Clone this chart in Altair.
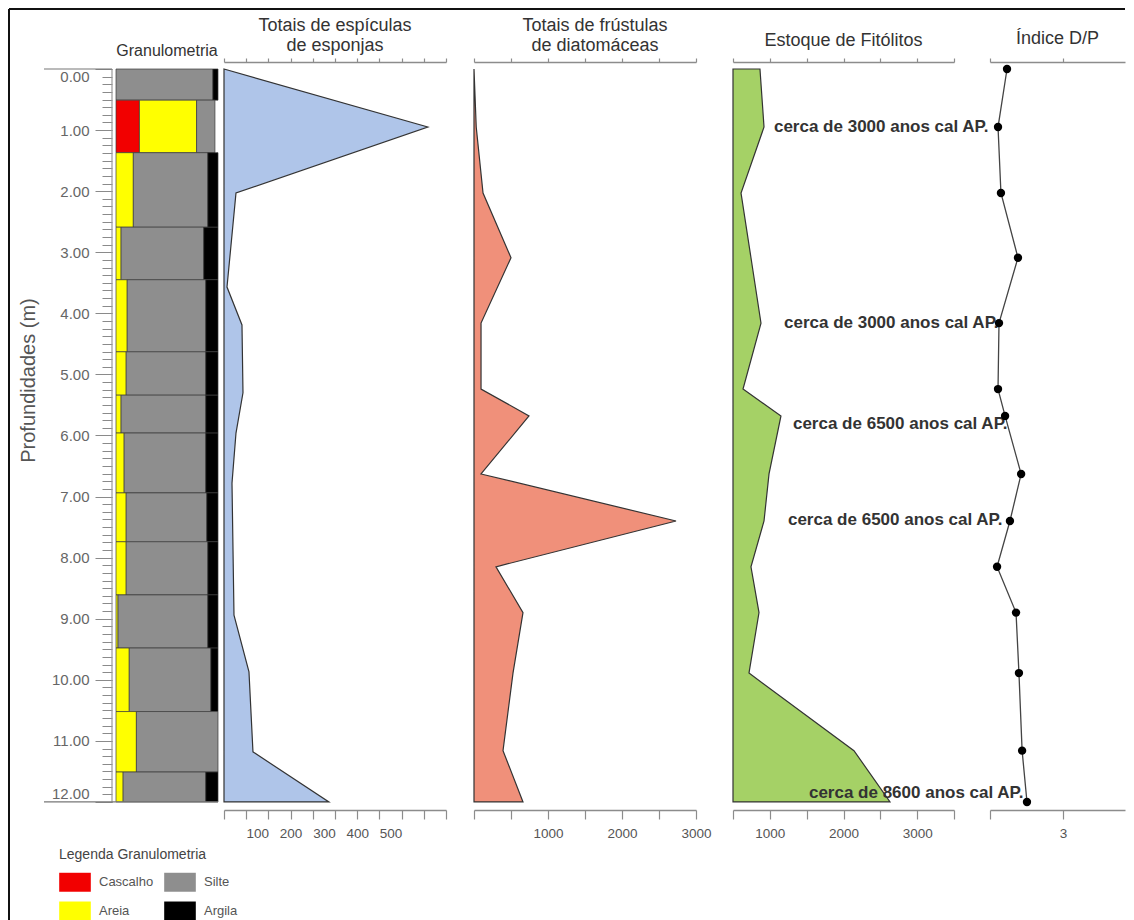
import altair as alt
import pandas as pd

FONT = "Liberation Sans"

# ---------------- data ----------------
# Granulometria: layer limits (m) and % of each class (left to right)
layer_top = [0.00, 0.51, 1.37, 2.59, 3.45, 4.63, 5.34, 5.96, 6.94, 7.74, 8.61, 9.48, 10.52, 11.51]
layer_bottom = [0.51, 1.37, 2.59, 3.45, 4.63, 5.34, 5.96, 6.94, 7.74, 8.61, 9.48, 10.52, 11.51, 12.00]
cascalho = [0, 23, 0, 0, 0, 0, 0, 0, 0, 0, 0, 0, 0, 0]
areia = [0, 56, 17, 5, 11, 10, 5, 8, 10, 10, 2, 13, 20, 7]
silte = [95, 18, 73, 81, 77, 78, 83, 80, 79, 80, 88, 80, 80, 81]
argila = [5, 0, 10, 14, 12, 12, 12, 12, 11, 10, 10, 7, 0, 12]

grain_classes = ["Cascalho", "Areia", "Silte", "Argila"]
grain_colors = ["#f20000", "#ffff00", "#8e8e8e", "#000000"]

# Totais de espículas de esponjas
sponge_depth = [0.0, 0.95, 2.03, 3.57, 4.19, 5.30, 5.96, 6.78, 8.94, 9.87, 11.18, 12.0]
sponge_total = [0, 612, 36, 9, 54, 57, 36, 24, 30, 75, 87, 315]

# sample depths shared by the other profiles
sample_depth = [0.0, 0.95, 2.03, 3.09, 4.16, 5.24, 5.68, 6.63, 7.40, 8.15, 8.90, 9.89, 11.16, 12.0]
diatom_total = [0, 30, 122, 500, 95, 95, 743, 95, 2730, 297, 662, 527, 392, 662]
phyto_stock = [866, 921, 609, 744, 880, 636, 1151, 989, 921, 744, 853, 717, 2142, 2631]
dp_index = [0.70, 0.33, 0.45, 1.15, 0.37, 0.33, 0.62, 1.28, 0.82, 0.29, 1.07, 1.19, 1.32, 1.52]

# dating annotations (depth, position on the phytolith axis)
anno_depth = [0.95, 4.16, 5.81, 7.38, 11.85]
anno_value = [1056, 1192, 1314, 1246, 1531]
anno_text = [
    "cerca de 3000 anos cal AP.",
    "cerca de 3000 anos cal AP.",
    "cerca de 6500 anos cal AP.",
    "cerca de 6500 anos cal AP.",
    "cerca de 8600 anos cal AP.",
]

# ---------------- layout constants ----------------
H = 779
Y_DOM = [-0.344, 12.41]
AXIS_GREY = "#8c8c8c"
OUTLINE = "#333333"


def yscale():
    return alt.Scale(domain=Y_DOM, reverse=True, nice=False, zero=False)


AXBASE = dict(domainColor=AXIS_GREY, domainWidth=1.6, tickColor=AXIS_GREY,
              tickWidth=1.2, grid=False, title=None)


def ax_top(ticks):
    return alt.Axis(orient="top", offset=-14, values=ticks, labels=False, tickSize=4, **AXBASE)


def ax_bottom_ticks(ticks):
    return alt.Axis(orient="bottom", offset=-17, values=ticks, labels=False, tickSize=9, **AXBASE)


def ax_bottom_labels(vals):
    return alt.Axis(orient="bottom", offset=-17, values=vals, ticks=False, domain=False,
                    labelPadding=16, format="d", labelFontSize=13.5, labelColor="#555555",
                    labelFont=FONT, grid=False, title=None, labelFlush=False, labelOverlap=False)


Y_LINE = alt.Axis(orient="left", domain=True, domainColor=AXIS_GREY, domainWidth=1.6,
                  ticks=False, labels=False, grid=False, title=None)


def title(lines, offset, size=18, dx=0):
    return alt.TitleParams(text=lines, font=FONT, fontSize=size, fontWeight="normal",
                           color="#333333", anchor="middle", frame="group", baseline="bottom",
                           offset=offset, lineHeight=20, dx=dx)


# ---------------- granulometry panel ----------------
rows = []
for i in range(len(layer_top)):
    x0 = 0
    for cls, vals in (("Cascalho", cascalho), ("Areia", areia), ("Silte", silte), ("Argila", argila)):
        v = vals[i]
        if v > 0:
            rows.append(dict(top=layer_top[i], bottom=layer_bottom[i], classe=cls, x0=x0, x1=x0 + v))
        x0 += v
gran_df = pd.DataFrame(rows)

major_axis = alt.Axis(
    orient="left", offset=4, values=list(range(0, 13)), domain=False,
    tickColor="#8a8a8a", tickWidth=1, tickSize=17, format=".2f",
    labelBaseline={"condition": [{"test": "datum.value === 0", "value": "top"},
                                 {"test": "datum.value === 12", "value": "bottom"}],
                   "value": "middle"},
    labelPadding=6, labelFontSize=15, labelColor="#666666", labelFont=FONT,
    labelOverlap=False, labelFlush=False, grid=False,
    title="Profundidades (m)", titleFontSize=20, titleFontWeight="normal",
    titleColor="#555555", titleFont=FONT, titleX=-84, titleY=332,
    titleBaseline="middle", titleAlign="center", titleAngle=270,
)
minor_axis = alt.Axis(
    orient="left", offset=4, values=[k * 0.125 for k in range(0, 97)], domain=False,
    tickColor="#8a8a8a", tickWidth=1, tickSize=10, labels=False, grid=False, title=None,
)

legend = alt.Legend(
    title="Legenda Granulometria", orient="none", legendX=-57, legendY=800,
    columns=2, symbolType="M-1,-0.6H1V0.6H-1Z", symbolSize=1000,
    symbolStrokeWidth=0, symbolOpacity=1,
    labelFont=FONT, labelFontSize=13, labelColor="#555555", labelOffset=8,
    titleFont=FONT, titleFontSize=14, titleFontWeight="normal", titleColor="#444444",
    titlePadding=4, columnPadding=10, rowPadding=3,
)

bars = alt.Chart(gran_df).mark_bar(stroke="#3a3a3a", strokeWidth=0.7).encode(
    x=alt.X("x0:Q", scale=alt.Scale(domain=[0, 100], nice=False), axis=None),
    x2="x1:Q",
    y=alt.Y("top:Q", scale=yscale(), axis=major_axis),
    y2="bottom:Q",
    color=alt.Color("classe:N", scale=alt.Scale(domain=grain_classes, range=grain_colors),
                    legend=legend),
)

depth_range = pd.DataFrame({"d0": [layer_top[0]], "d1": [layer_bottom[-1]]})
depth_line = alt.Chart(depth_range).mark_rule(color="#9a9a9a", strokeWidth=1.2).encode(
    x=alt.value(-4), y=alt.Y("d0:Q", scale=yscale(), axis=minor_axis), y2="d1:Q")
top_line = alt.Chart(depth_range).mark_rule(color="#777777", strokeWidth=1.2).encode(
    x=alt.value(-72), x2=alt.value(-4), y=alt.Y("d0:Q", scale=yscale(), axis=None))
bottom_line = alt.Chart(depth_range).mark_rule(color="#777777", strokeWidth=1.2).encode(
    x=alt.value(-72), x2=alt.value(102), y=alt.Y("d1:Q", scale=yscale(), axis=None))

gran = alt.layer(bars, depth_line, top_line, bottom_line).resolve_axis(y="independent").properties(
    width=102, height=H, title=title("Granulometria", -27, size=16))


# ---------------- profile panels ----------------
def profile_panel(depths, values, dom, fill, ticks, labels, width, ttl, extra=None):
    df = pd.DataFrame({"depth": depths, "v": values})
    xs = alt.Scale(domain=dom, nice=False, zero=False)
    area = alt.Chart(df).mark_area(orient="horizontal", fill=fill, fillOpacity=1,
                                   stroke=OUTLINE, strokeWidth=1.2).encode(
        x=alt.X("v:Q", scale=xs, axis=ax_top(ticks), stack=None),
        y=alt.Y("depth:Q", scale=yscale(), axis=Y_LINE),
    )
    tk = alt.Chart(df).mark_point(opacity=0).encode(
        x=alt.X("v:Q", scale=xs, axis=ax_bottom_ticks(ticks)),
        y=alt.Y("depth:Q", scale=yscale(), axis=None))
    lb = alt.Chart(df).mark_point(opacity=0).encode(
        x=alt.X("v:Q", scale=xs, axis=ax_bottom_labels(labels)),
        y=alt.Y("depth:Q", scale=yscale(), axis=None))
    layers = [area, tk, lb]
    if extra is not None:
        layers.append(extra(xs))
    return alt.layer(*layers).resolve_axis(x="independent").properties(
        width=width, height=H, title=ttl)


sponge = profile_panel(sponge_depth, sponge_total, [0, 2000 / 3], "#afc5e9",
                       [k * 200 / 3 for k in range(11)], [100, 200, 300, 400, 500], 222,
                       title(["Totais de espículas", "de esponjas"], -25))

diatom = profile_panel(sample_depth, diatom_total, [0, 3000], "#f0907a",
                       [k * 500 for k in range(7)], [1000, 2000, 3000], 222,
                       title(["Totais de frústulas", "de diatomáceas"], -25, dx=10))


def annotations(xs):
    adf = pd.DataFrame({"depth": anno_depth, "v": anno_value, "txt": anno_text})
    return alt.Chart(adf).mark_text(align="left", baseline="middle", font=FONT, fontSize=17,
                                    fontWeight="bold", color="#333333").encode(
        x=alt.X("v:Q", scale=xs, axis=None),
        y=alt.Y("depth:Q", scale=yscale(), axis=None),
        text="txt:N")


phyto = profile_panel(sample_depth, phyto_stock, [500, 3500], "#a5d166",
                      [500 + k * 500 for k in range(7)], [1000, 2000, 3000], 221,
                      title("Estoque de Fitólitos", -20), extra=annotations)

# D/P index panel
dp_df = pd.DataFrame({"depth": sample_depth, "v": dp_index})
dp_scale = alt.Scale(domain=[0, 5.55], nice=False, zero=False)
dp_line = alt.Chart(dp_df).mark_line(color="#444444", strokeWidth=1.3).encode(
    x=alt.X("v:Q", scale=dp_scale, axis=ax_top([0, 3])),
    y=alt.Y("depth:Q", scale=yscale(), axis=Y_LINE),
    order=alt.Order("depth:Q"))
dp_pts = alt.Chart(dp_df).mark_circle(color="#000000", opacity=1, size=70).encode(
    x=alt.X("v:Q", scale=dp_scale, axis=ax_bottom_ticks([0, 3])),
    y=alt.Y("depth:Q", scale=yscale(), axis=None))
dp_lab = alt.Chart(dp_df).mark_point(opacity=0).encode(
    x=alt.X("v:Q", scale=dp_scale, axis=ax_bottom_labels([3])),
    y=alt.Y("depth:Q", scale=yscale(), axis=None))
dp = alt.layer(dp_line, dp_pts, dp_lab).resolve_axis(x="independent").properties(
    width=135, height=H, title=title("Índice D/P", -18))


def spacer(w):
    return alt.Chart(pd.DataFrame({"a": [0]})).mark_point(opacity=0).encode(
        x=alt.value(0), y=alt.value(0)).properties(width=w, height=H)


# first spacer also carries the figure frame (top and left border)
frame_df = pd.DataFrame({"a": [0]})
frame_top = alt.Chart(frame_df).mark_rule(color="#111111", strokeWidth=2).encode(
    x=alt.value(-209), x2=alt.value(907), y=alt.value(-39))
frame_left = alt.Chart(frame_df).mark_rule(color="#111111", strokeWidth=2).encode(
    x=alt.value(-209), y=alt.value(-39), y2=alt.value(875))
spacer_frame = alt.layer(spacer(6), frame_top, frame_left).properties(width=6, height=H)

chart = alt.hconcat(
    gran, spacer_frame, sponge, spacer(28), diatom, spacer(37), phyto, spacer(36), dp,
    spacing=0, bounds="flush",
).properties(padding=0).configure_view(stroke=None)

chart.save("out.html", embed_options={"renderer": "svg", "actions": False})
